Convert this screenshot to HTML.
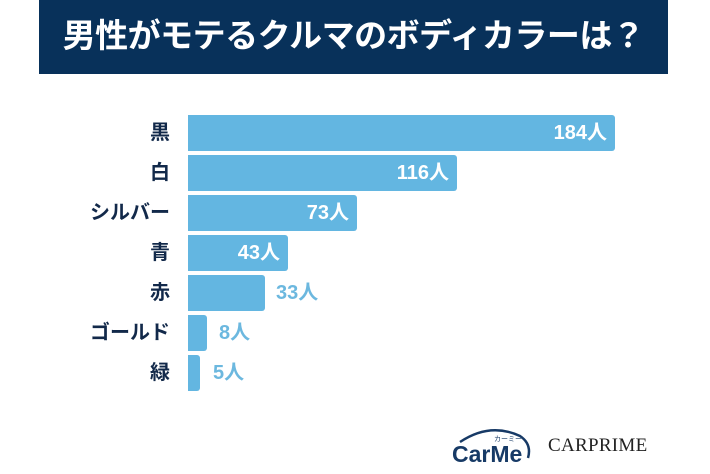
<!DOCTYPE html>
<html><head><meta charset="utf-8"><style>
body{margin:0;width:710px;height:474px;background:#fff;position:relative;overflow:hidden;font-family:"Liberation Sans","Noto Sans CJK JP",sans-serif}
.hd{position:absolute;left:39px;top:0;width:629px;height:74px;background:#08315a;color:#fff;font-size:33px;font-weight:bold;text-align:center;line-height:72px;letter-spacing:-0.5px}
.lab{position:absolute;right:540px;font-size:20px;font-weight:bold;color:#12294a;height:36px;line-height:36px;white-space:nowrap}
.bar{position:absolute;left:188px;height:36px;background:#63b6e1;border-radius:0 3px 3px 0}
.v{position:absolute;font-size:20px;font-weight:bold;height:36px;line-height:36px;white-space:nowrap}
.in{color:#fff}.out{color:#6cb8df}
</style></head><body>
<div class="hd">男性がモテるクルマのボディカラーは？</div>

<div class="lab" style="top:115px">黒</div><div class="bar" style="top:115px;width:427px"></div><div class="v in" style="top:115px;right:103px">184人</div>
<div class="lab" style="top:155px">白</div><div class="bar" style="top:155px;width:269px"></div><div class="v in" style="top:155px;right:261px">116人</div>
<div class="lab" style="top:195px">シルバー</div><div class="bar" style="top:195px;width:169px"></div><div class="v in" style="top:195px;right:361px">73人</div>
<div class="lab" style="top:235px">青</div><div class="bar" style="top:235px;width:100px"></div><div class="v in" style="top:235px;right:430px">43人</div>
<div class="lab" style="top:275px">赤</div><div class="bar" style="top:275px;width:77px"></div><div class="v out" style="top:275px;left:276px">33人</div>
<div class="lab" style="top:315px">ゴールド</div><div class="bar" style="top:315px;width:19px"></div><div class="v out" style="top:315px;left:219px">8人</div>
<div class="lab" style="top:355px">緑</div><div class="bar" style="top:355px;width:12px"></div><div class="v out" style="top:355px;left:213px">5人</div>

<svg style="position:absolute;left:450px;top:424px" width="90" height="44">
<path d="M10 18 Q40 -2 70 12 Q82 20 78 34" fill="none" stroke="#173a66" stroke-width="2.5"/>
<text x="2" y="38" font-family="Liberation Sans" font-weight="bold" font-size="23" fill="#173a66">CarMe</text>
<text x="44" y="17" font-family="Noto Sans CJK JP" font-size="7" fill="#173a66">カーミー</text>
</svg>
<div style="position:absolute;left:548px;top:435px;font-family:'Liberation Serif',serif;font-size:19px;color:#222;letter-spacing:0.3px">CARPRIME</div>
</body></html>
